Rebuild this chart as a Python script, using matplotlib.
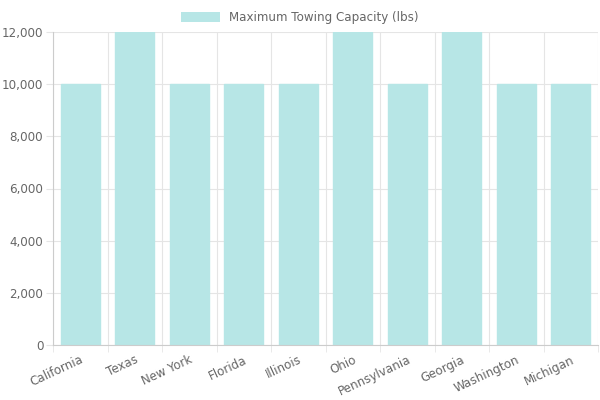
import matplotlib.pyplot as plt
import numpy as np

states = ['California', 'Texas', 'New York', 'Florida', 'Illinois', 'Ohio',
          'Pennsylvania', 'Georgia', 'Washington', 'Michigan']
towing = [10000, 12000, 10000, 10000, 10000, 12000, 10000, 12000, 10000, 10000]
y_ticks = [0, 2000, 4000, 6000, 8000, 10000, 12000]

fig = plt.figure(figsize=(6, 4), dpi=100)
ax = fig.add_axes([53 / 600, 55 / 400, 545 / 600, 313 / 400])

x = np.arange(len(states))
ax.bar(x, towing, width=0.72, color='#b7e6e6', edgecolor='#b7e6e6', zorder=2)

ax.set_xlim(-0.5, len(states) - 0.5)
ax.set_ylim(0, 12000)
ax.set_yticks(y_ticks)
ax.set_yticklabels([f'{v:,}' for v in y_ticks], fontsize=8.6, color='#666666')
ax.set_xticks(x)
ax.set_xticklabels(states, rotation=25, ha='right', rotation_mode='anchor',
                   fontsize=8.6, color='#666666')

# grid lines at category boundaries, like Chart.js
ax.set_xticks(np.arange(-0.5, len(states), 1), minor=True)
ax.grid(which='minor', axis='x', color='#e5e5e5', lw=0.8, zorder=0)
ax.grid(which='major', axis='y', color='#e5e5e5', lw=0.8, zorder=0)
ax.tick_params(axis='x', which='major', length=0, pad=6)
ax.tick_params(axis='x', which='minor', length=5, color='#e5e5e5')
ax.tick_params(axis='y', length=5, color='#e5e5e5', pad=2)
for s in ['top', 'right']:
    ax.spines[s].set_visible(False)
for s in ['left', 'bottom']:
    ax.spines[s].set_color('#cccccc')

h = ax.bar([0], [0], color='#b7e6e6', label='Maximum Towing Capacity (lbs)')
fig.legend(handles=[h], loc='upper center', bbox_to_anchor=(0.5, 1.0),
           frameon=False, fontsize=8.6, labelcolor='#666666',
           handlelength=3.2, handleheight=0.9)

fig.savefig('out.png', dpi=100)
